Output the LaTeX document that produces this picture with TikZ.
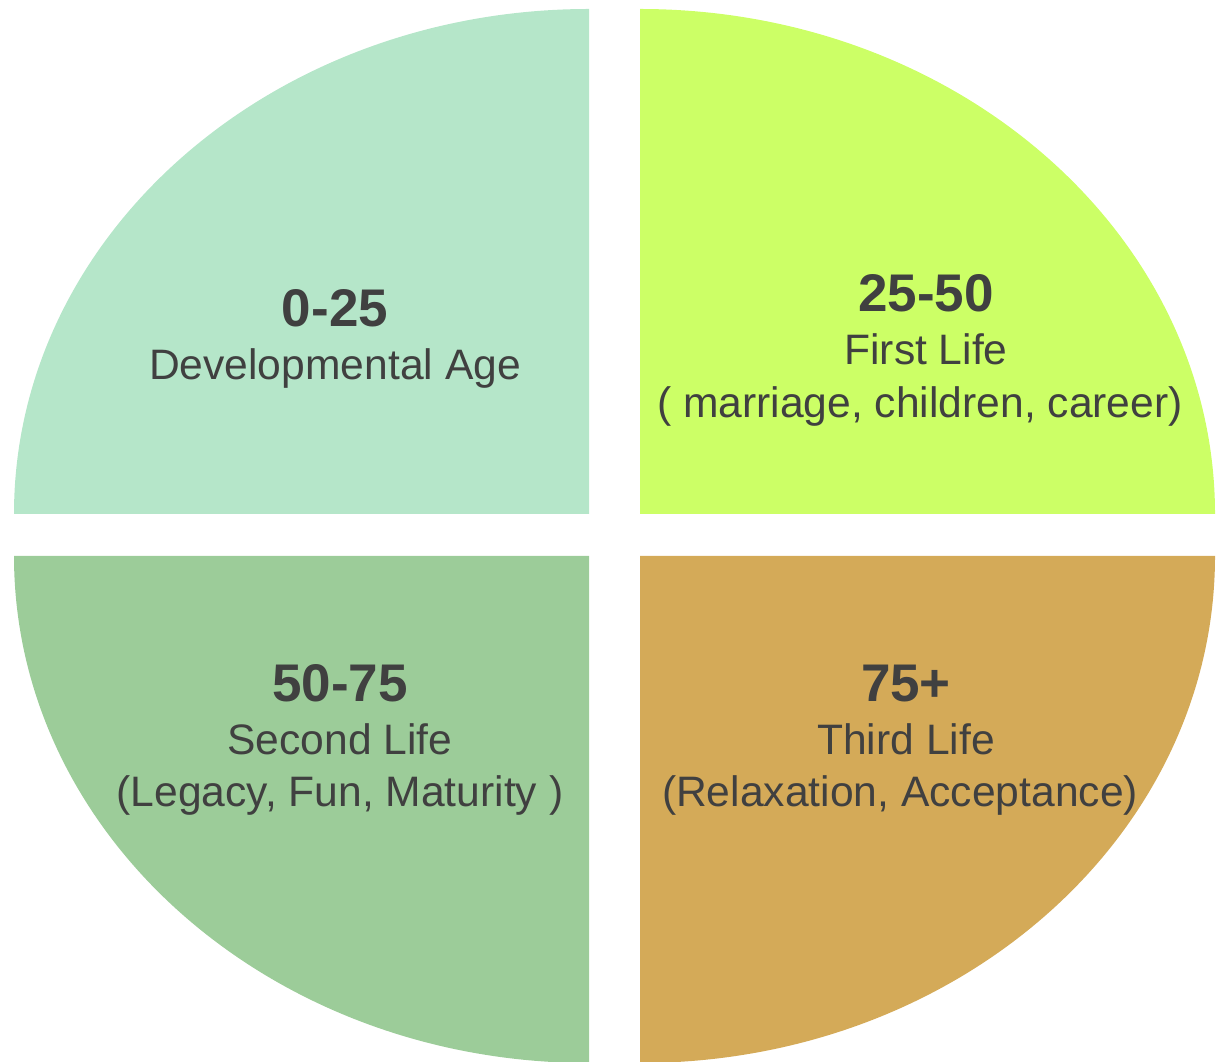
\documentclass[tikz,border=0pt]{standalone}
\usepackage{fontspec}
\setmainfont{Liberation Sans}
\definecolor{cTL}{RGB}{181,230,201}
\definecolor{cTR}{RGB}{204,255,102}
\definecolor{cBL}{RGB}{156,204,153}
\definecolor{cBR}{RGB}{212,170,88}
\definecolor{txt}{RGB}{64,64,64}
\tikzset{
  quad/.style={draw=none},
  age/.style={anchor=base, inner sep=0pt, text=txt, font=\fontsize{53}{60}\selectfont\bfseries},
  lbl/.style={anchor=base, inner sep=0pt, text=txt, font=\fontsize{42.6}{50}\selectfont},
}
\begin{document}
\begin{tikzpicture}[x=1pt,y=1pt]
\useasboundingbox (0,0) rectangle (1220,1061);
\begin{scope}
\clip (0,0) rectangle (1220,1061);
\fill[cTL,quad] (589,547) -- (14,547) arc[start angle=180, end angle=90, x radius=575, y radius=505] -- cycle;
\fill[cTR,quad] (640,547) -- (1215,547) arc[start angle=0, end angle=90, x radius=575, y radius=505] -- cycle;
\fill[cBL,quad] (589,505) -- (14,505) arc[start angle=180, end angle=270, x radius=575, y radius=507] -- cycle;
\fill[cBR,quad] (640,505) -- (1215,505) arc[start angle=0, end angle=-90, x radius=575, y radius=507] -- cycle;
\end{scope}
% top-left
\node[age] (a1) at (335,1061-327) {0-25};
\node[lbl] (b1) at (335,1061-380) {Developmental Age};
% top-right
\node[age] (a2) at (926,1061-312) {25-50};
\node[lbl] (b2) at (926,1061-365) {First Life};
\node[lbl] (c2) at (920,1061-418) {( marriage, children, career)};
% bottom-left
\node[age] (a3) at (340,1061-701) {50-75};
\node[lbl] (b3) at (340,1061-754) {Second Life};
\node[lbl] (c3) at (340,1061-806) {(Legacy, Fun, Maturity )};
% bottom-right
\node[age] (a4) at (906,1061-701) {75+};
\node[lbl] (b4) at (906,1061-754) {Third Life};
\node[lbl] (c4) at (900,1061-806) {(Relaxation, Acceptance)};
\end{tikzpicture}
\end{document}
